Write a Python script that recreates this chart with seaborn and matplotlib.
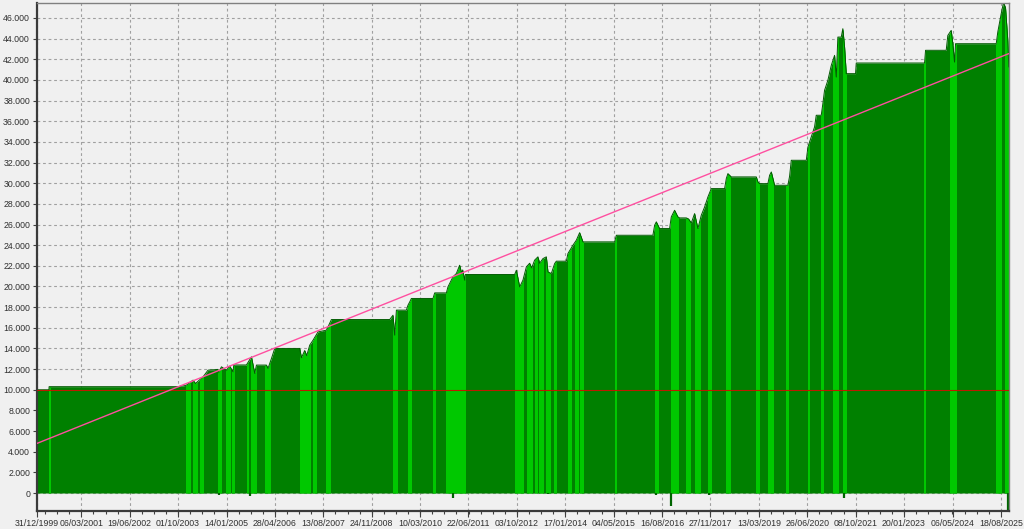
import numpy as np
import pandas as pd
import matplotlib
matplotlib.use("Agg")
import matplotlib.pyplot as plt
import matplotlib.dates as mdates
from matplotlib.patches import Rectangle
import seaborn as sns

# ---------------- data ----------------
# equity curve: decimal year, account value
eq_year = [2000.000, 2000.315, 2000.319, 2003.748, 2003.927, 2003.972, 2004.147, 2004.211,
           2004.413, 2004.546, 2004.812, 2004.830, 2004.902, 2005.035, 2005.123, 2005.211,
           2005.229, 2005.567, 2005.700, 2005.788, 2005.833, 2006.099, 2006.141, 2006.232,
           2006.319, 2006.984, 2007.029, 2007.117, 2007.170, 2007.250, 2007.338, 2007.470,
           2007.694, 2007.736, 2007.827, 2009.377, 2009.464, 2009.509, 2009.555, 2009.820,
           2009.863, 2009.908, 2009.953, 2010.528, 2010.573, 2010.884, 2010.926, 2011.059,
           2011.150, 2011.237, 2011.291, 2011.318, 2011.371, 2011.389, 2012.700, 2012.745,
           2012.833, 2012.920, 2013.011, 2013.098, 2013.152, 2013.231, 2013.319, 2013.364,
           2013.452, 2013.542, 2013.585, 2013.675, 2013.763, 2013.808, 2014.074, 2014.117,
           2014.250, 2014.340, 2014.428, 2014.516, 2015.359, 2015.404, 2016.376, 2016.422,
           2016.467, 2016.554, 2016.820, 2016.865, 2016.953, 2017.041, 2017.086, 2017.264,
           2017.325, 2017.397, 2017.485, 2017.573, 2017.663, 2017.751, 2017.839, 2017.929,
           2018.283, 2018.328, 2018.371, 2018.461, 2019.126, 2019.169, 2019.214, 2019.434,
           2019.480, 2019.525, 2019.613, 2019.966, 2020.011, 2020.056, 2020.455, 2020.499,
           2020.587, 2020.675, 2020.720, 2020.853, 2020.896, 2020.941, 2021.029, 2021.120,
           2021.207, 2021.252, 2021.295, 2021.385, 2021.427, 2021.473, 2021.518, 2021.765,
           2021.784, 2023.600, 2023.627, 2024.176, 2024.219, 2024.309, 2024.352, 2024.397,
           2024.424, 2025.506, 2025.548, 2025.639, 2025.700, 2025.753, 2025.814, 2025.841]
eq_value = [10000, 10000, 10300, 10300, 10400, 10450, 10930, 10610,
            11250, 11900, 11970, 11700, 12220, 11900, 12290, 11740,
            12400, 12400, 13190, 11580, 12390, 12390, 12070, 13030,
            14000, 14000, 13100, 13800, 13300, 14320, 14800, 15600,
            15770, 16090, 16800, 16800, 17220, 15290, 17710, 17710,
            18190, 18500, 18840, 18840, 19380, 19380, 19960, 20930,
            21260, 22060, 21260, 21600, 20610, 21160, 21160, 21580,
            19960, 20610, 21900, 22250, 21800, 22550, 22870, 22250,
            22700, 22870, 21410, 21260, 22220, 22450, 22450, 23190,
            24000, 24480, 25210, 24320, 24320, 24960, 24960, 25930,
            26260, 25610, 25610, 26740, 27380, 26740, 26640, 26640,
            26540, 26150, 27060, 25610, 26900, 27700, 28670, 29480,
            29480, 30450, 30930, 30610, 30610, 30120, 29960, 29960,
            30770, 31090, 29800, 29800, 30670, 32220, 32220, 33510,
            34480, 35450, 36580, 36580, 37710, 39000, 39960, 41410,
            42380, 40280, 44150, 44150, 44960, 43190, 40610, 40610,
            41640, 41640, 42870, 42870, 44310, 44800, 43510, 41730,
            43510, 43510, 44640, 46420, 47500, 47000, 43830, 41250]

# periods in the market (bright green bands): start / end decimal year
band_start = [2000.31, 2003.97, 2004.15, 2004.32, 2004.81, 2005.03, 2005.17, 2005.57, 2005.70,
              2006.06, 2006.98, 2007.34, 2007.69, 2009.46, 2009.86, 2010.53, 2010.88, 2011.01,
              2012.72, 2013.04, 2013.23, 2013.36, 2013.54, 2013.75, 2014.12, 2014.30, 2014.43,
              2015.36, 2016.42, 2016.87, 2017.26, 2017.49, 2017.84, 2018.33, 2019.13, 2019.43,
              2019.92, 2020.50, 2020.85, 2021.16, 2021.43, 2023.58, 2024.27, 2025.51, 2025.75]
band_end = [2000.33, 2004.06, 2004.24, 2004.41, 2004.90, 2005.12, 2005.23, 2005.61, 2005.83,
            2006.19, 2007.25, 2007.43, 2007.78, 2009.56, 2009.95, 2010.57, 2010.97, 2011.37,
            2012.92, 2013.17, 2013.29, 2013.46, 2013.63, 2013.80, 2014.21, 2014.38, 2014.52,
            2015.40, 2016.51, 2017.04, 2017.35, 2017.62, 2017.93, 2018.42, 2019.20, 2019.57,
            2019.97, 2020.54, 2020.89, 2021.30, 2021.52, 2023.61, 2024.43, 2025.64, 2025.82]

# small dips below zero
dip_year = [2004.83, 2005.66, 2011.06, 2013.59, 2016.47, 2016.87, 2017.88, 2021.47, 2025.83]
dip_value = [-150, -260, -510, -100, -150, -1260, -150, -520, -1800]

# linear regression line (start / end)
trend_year = [2000.0, 2025.841]
trend_value = [4810, 42550]

start_capital = 10000

tick_labels = ['31/12/1999', '06/03/2001', '19/06/2002', '01/10/2003', '14/01/2005',
               '28/04/2006', '13/08/2007', '24/11/2008', '10/03/2010', '22/06/2011',
               '03/10/2012', '17/01/2014', '04/05/2015', '16/08/2016', '27/11/2017',
               '13/03/2019', '26/06/2020', '08/10/2021', '20/01/2023', '06/05/2024',
               '18/08/2025']
y_ticks = list(range(0, 46001, 2000))


def to_date(years):
    years = np.asarray(years, dtype=float)
    return pd.Timestamp('2000-01-01') + pd.to_timedelta((years - 2000.0) * 365.25, unit='D')


# ---------------- styling ----------------
bg = '#f0f0f0'
dark_green = '#008000'
bright_green = '#00c800'

sns.set_theme(style='whitegrid', rc={
    'axes.facecolor': bg,
    'figure.facecolor': bg,
    'grid.color': '#a0a0a0',
    'grid.linestyle': (0, (2.5, 2.5)),
    'grid.linewidth': 0.8,
})
plt.rcParams['font.family'] = ['Liberation Sans', 'DejaVu Sans']

fig = plt.figure(figsize=(10.24, 5.29), dpi=100)
ax = fig.add_axes([37 / 1024, 1 - 511 / 529, 972 / 1024, 508 / 529])

eq_dates = to_date(eq_year)
x_num = mdates.date2num(eq_dates)
y_min, y_max = -1740, 47450

# dark green equity area
ax.fill_between(x_num, 0, eq_value, color=dark_green, lw=0, zorder=2)

# bright green in-trade bands, clipped from the same area
for s, e in zip(band_start, band_end):
    s_num, e_num = mdates.date2num(to_date([s, e]))
    poly = ax.fill_between(x_num, 0, eq_value, color=bright_green, lw=0, zorder=2.1)
    rect = Rectangle((s_num, y_min), e_num - s_num, y_max - y_min, transform=ax.transData)
    poly.set_clip_path(rect)

# outline of the equity curve
sns.lineplot(x=x_num, y=eq_value, color='#005a00', lw=0.7, ax=ax, zorder=2.3, sort=False)

# dips below zero
ax.vlines(mdates.date2num(to_date(dip_year)), 0, dip_value, color='#006400', lw=1.6, zorder=2.2)

# starting capital line and trend line
ax.axhline(start_capital, color='#c01800', lw=0.8, zorder=3)
sns.lineplot(x=mdates.date2num(to_date(trend_year)), y=trend_value, color='#ff4fa0',
             lw=1.0, ax=ax, zorder=3.1)

# ---------------- axes ----------------
major = mdates.date2num(pd.to_datetime(tick_labels, dayfirst=True))
x_left = major[0]
x_right = mdates.date2num(to_date([2025.846]))[0]
ax.set_xlim(x_left, x_right)
ax.set_ylim(y_min, y_max)

ax.set_xticks(major)
ax.set_xticklabels(tick_labels)
step = (major[-1] - major[1]) / 19
minor = major[1] + step / 4 * np.arange(-8, 85)
minor = [m for m in minor if x_left < m < x_right]
ax.set_xticks(minor, minor=True)

ax.set_yticks(y_ticks)
ax.set_yticklabels([f'{v:,}'.replace(',', '.') for v in y_ticks])

ax.grid(True, which='major', axis='both')
ax.grid(False, which='minor')
ax.set_axisbelow(True)

ax.tick_params(axis='x', which='major', length=4, width=0.8, color='#404040', pad=2,
               labelsize=6.3, labelcolor='#303030', bottom=True)
ax.tick_params(axis='x', which='minor', length=2.5, width=0.8, color='#404040', bottom=True)
ax.tick_params(axis='y', length=3, width=0.8, color='#404040', pad=2,
               labelsize=6.3, labelcolor='#303030', left=True)

for side in ['left', 'bottom']:
    ax.spines[side].set_color('#3a3a3a')
    ax.spines[side].set_linewidth(1.6)
for side in ['top', 'right']:
    ax.spines[side].set_color('#808080')
    ax.spines[side].set_linewidth(1.0)

ax.set_xlabel('')
ax.set_ylabel('')

fig.savefig('out.png', dpi=100, facecolor=bg)
